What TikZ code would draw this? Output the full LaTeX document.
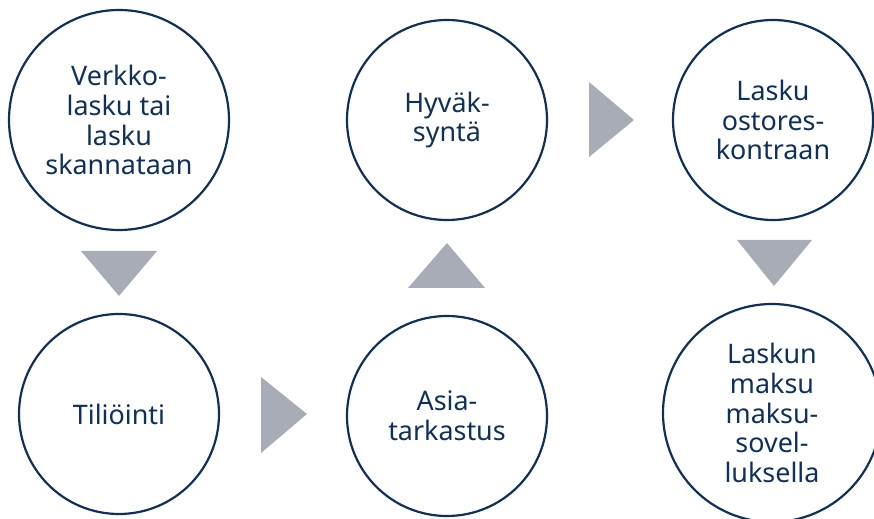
\documentclass[tikz,border=0pt]{standalone}
\usepackage{fontspec}
\setmainfont{Noto Sans}
\usetikzlibrary{calc}
\definecolor{navy}{RGB}{14,48,92}
\definecolor{arrowgray}{RGB}{168,172,182}
\tikzset{
	stepcircle/.style={circle, draw=navy, line width=2.2bp, text=navy, align=center,
		inner sep=0pt, font=\fontsize{27}{30}\selectfont},
	flowtri/.style={fill=arrowgray},
}

\begin{document}
\begin{tikzpicture}[x=1bp, y=-1bp]
			%%%%% START %%%%%
			\useasboundingbox (0, 0) rectangle (874, 519);
			
			\node[stepcircle, minimum size=220bp] (verkko) at (119, 120) {Verkko-\\lasku tai\\lasku\\skannataan};
			\node[stepcircle, minimum size=200bp] (tili) at (119, 414) {Tiliöinti};
			\node[stepcircle, minimum size=200bp] (asia) at (447, 416) {Asia-\\tarkastus};
			\node[stepcircle, minimum size=200bp] (hyva) at (447, 120) {Hyväk-\\syntä};
			\node[stepcircle, minimum size=200bp] (ostores) at (773, 120) {Lasku\\ostores-\\kontraan};
			\node[stepcircle, minimum size=218bp] (maksu) at (772, 413) {Laskun\\maksu\\maksu-\\sovel-\\luksella};
			
			\fill[flowtri] (81, 251) -- (157, 251) -- (119, 296) -- cycle;
			\fill[flowtri] (261, 377) -- (261, 453) -- (307, 414) -- cycle;
			\fill[flowtri] (408, 288) -- (485, 288) -- (447, 243) -- cycle;
			\fill[flowtri] (589, 82) -- (589, 157) -- (634, 120) -- cycle;
			\fill[flowtri] (737, 240) -- (812, 240) -- (774, 286) -- cycle;
			
			%%%%% END %%%%%
\end{tikzpicture}
\end{document}
